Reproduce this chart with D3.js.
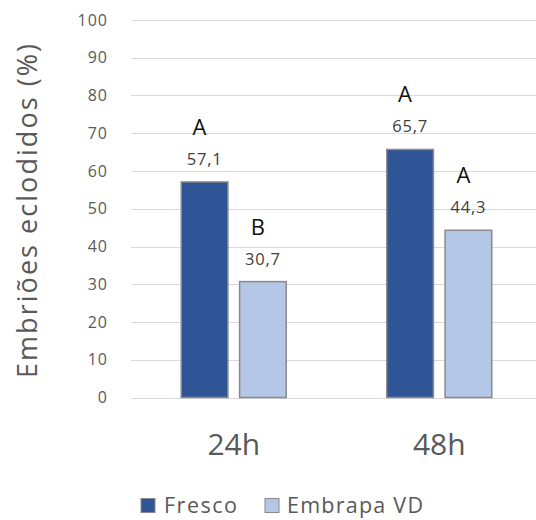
<!DOCTYPE html>
<html>
<head>
<meta charset="utf-8">
<script src="https://cdn.jsdelivr.net/npm/d3@7"></script>
<style>
  html, body { margin: 0; padding: 0; background: #fff; }
  svg { display: block; }
  text { font-family: "Open Sans", sans-serif; }
</style>
</head>
<body>
<svg id="chart" width="536" height="520"></svg>
<script>
// Hatching rate of embryos by time and condition
const categories = ["24h", "48h"];
const seriesNames = ["Fresco", "Embrapa VD"];
const fresco = [57.1, 65.7];
const embrapaVD = [30.7, 44.3];
const frescoLetters = ["A", "A"];
const embrapaLetters = ["B", "A"];
const yTicks = [0, 10, 20, 30, 40, 50, 60, 70, 80, 90, 100];
const yTitle = "Embriões eclodidos (%)";

const colors = ["#2F5597", "#B4C7E7"];
const values = [fresco, embrapaVD];
const letters = [frescoLetters, embrapaLetters];

const rows = [];
categories.forEach((c, i) => {
  seriesNames.forEach((s, j) => {
    rows.push({ cat: c, series: s, value: values[j][i], letter: letters[j][i], color: colors[j] });
  });
});

const svg = d3.select("#chart");

const y = d3.scaleLinear().domain([0, 100]).range([397.5, 20]);
const x0 = d3.scaleBand().domain(categories).range([131, 542])
  .paddingInner(0.489).paddingOuter(0.2445);
const x1 = d3.scaleBand().domain(seriesNames).range([0, x0.bandwidth()])
  .paddingInner(0.2).paddingOuter(0);

// gridlines
svg.append("g").selectAll("line").data(yTicks).join("line")
  .attr("x1", 131).attr("x2", 542)
  .attr("y1", d => Math.round(y(d)) + 0.5).attr("y2", d => Math.round(y(d)) + 0.5)
  .attr("stroke", "#d9d9d9").attr("stroke-width", 1.2);

// y axis tick labels
const yAxis = d3.axisLeft(y).tickValues(yTicks).tickSize(0).tickPadding(0);
const gy = svg.append("g").attr("transform", "translate(108,0)").call(yAxis);
gy.select(".domain").remove();
gy.selectAll("text")
  .attr("font-family", "'Open Sans', sans-serif")
  .attr("font-size", 16).attr("fill", "#595959")
  .attr("letter-spacing", 1);

// y axis title
svg.append("text")
  .attr("transform", "translate(37,211) rotate(-90)")
  .attr("text-anchor", "middle")
  .attr("font-size", 27).attr("fill", "#595959")
  .attr("textLength", 334).attr("lengthAdjust", "spacing")
  .text(yTitle);

// bars
svg.append("g").selectAll("rect").data(rows).join("rect")
  .attr("x", d => x0(d.cat) + x1(d.series))
  .attr("y", d => y(d.value))
  .attr("width", x1.bandwidth())
  .attr("height", d => y(0) - y(d.value))
  .attr("fill", d => d.color)
  .attr("stroke", "#8a8a8a").attr("stroke-width", 1.5);

// value labels
svg.append("g").selectAll("text").data(rows).join("text")
  .attr("x", d => x0(d.cat) + x1(d.series) + x1.bandwidth() / 2)
  .attr("y", d => y(d.value) - 17)
  .attr("text-anchor", "middle")
  .attr("font-size", 16.5).attr("fill", "#404040")
  .attr("letter-spacing", 0.8)
  .text(d => d3.format(".1f")(d.value).replace(".", ","));

// significance letters
svg.append("g").selectAll("text").data(rows).join("text")
  .attr("x", d => x0(d.cat) + x1(d.series) + x1.bandwidth() / 2 - 5)
  .attr("y", d => y(d.value) - 47)
  .attr("text-anchor", "middle")
  .attr("font-size", 22).attr("fill", "#111")
  .text(d => d.letter);

// category axis labels
const xAxis = d3.axisBottom(x0).tickSize(0).tickPadding(0);
const gx = svg.append("g").attr("transform", "translate(0,434)").call(xAxis);
gx.select(".domain").remove();
gx.selectAll("text")
  .attr("font-family", "'Open Sans', sans-serif")
  .attr("font-size", 30).attr("fill", "#595959")
  .attr("dy", "0.71em");

// legend
const legendItems = [
  { name: seriesNames[0], color: colors[0], x: 141, textX: 164, len: 73 },
  { name: seriesNames[1], color: colors[1], x: 265, textX: 287, len: 136 }
];
const lg = svg.append("g");
legendItems.forEach(it => {
  lg.append("rect").attr("x", it.x).attr("y", 498.5)
    .attr("width", 14).attr("height", 14)
    .attr("fill", it.color).attr("stroke", "#8a8a8a").attr("stroke-width", 1);
  lg.append("text").attr("x", it.textX).attr("y", 513)
    .attr("font-size", 21.5).attr("fill", "#595959")
    .attr("textLength", it.len).attr("lengthAdjust", "spacing")
    .text(it.name);
});
</script>
</body>
</html>
